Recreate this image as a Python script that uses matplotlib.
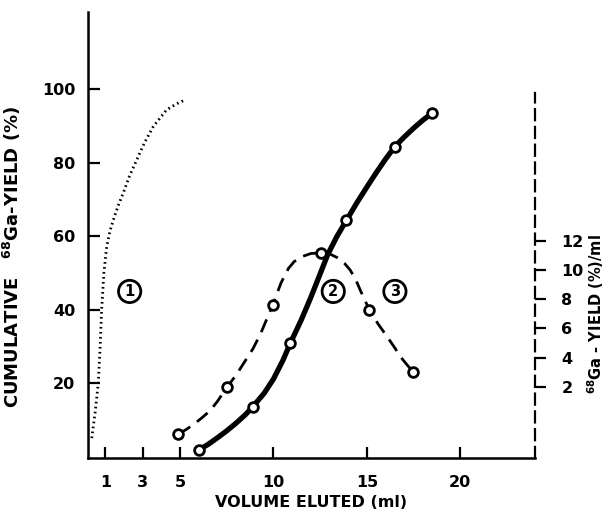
import matplotlib
matplotlib.use("Agg")
import matplotlib.pyplot as plt

plt.rcParams["font.family"] = ["DejaVu Sans"]
plt.rcParams["font.weight"] = "bold"
plt.rcParams["mathtext.default"] = "bf"

# curve 1: dotted cumulative yield (left axis, %)
v_dotted = [0.27, 0.45, 0.62, 0.72, 0.80, 0.92, 1.07, 1.25, 1.43, 1.7, 1.96, 2.3,
            2.68, 3.1, 3.57, 4.28, 4.8, 5.27]
y_dotted = [5.1, 12.0, 20.0, 30.0, 40.0, 50.0, 57.2, 61.5, 64.5, 68.5, 71.8, 76.5,
            80.8, 85.5, 89.9, 94.4, 96.0, 97.1]

# curve 2: cumulative yield, measured points (left axis, %)
v_cum = [6.0, 8.9, 10.9, 13.9, 16.5, 18.5]
y_cum = [1.9, 13.7, 30.9, 64.3, 84.4, 93.5]
# line traced through them
v_cum_line = [6.0, 6.5, 7.0, 7.5, 8.0, 8.5, 8.9, 9.5, 10.0, 10.5, 10.9, 11.5, 12.0,
              12.5, 12.9, 13.4, 13.9, 14.5, 15.0, 15.5, 16.0, 16.5, 17.0, 17.5,
              18.0, 18.5]
y_cum_line = [1.9, 3.4, 5.2, 7.1, 9.2, 11.5, 13.7, 17.3, 21.2, 26.2, 30.9, 37.4, 43.4,
              49.8, 55.0, 60.0, 64.3, 69.4, 73.4, 77.3, 81.0, 84.4, 87.0, 89.4,
              91.6, 93.5]

# curve 3: yield per ml (right axis, %/ml)
v_rate = [4.91, 7.5, 9.96, 12.55, 15.14, 17.49]
y_rate = [-1.24, 1.95, 7.6, 11.18, 7.25, 2.99]
v_rate_line = [4.91, 5.3, 5.7, 6.1, 6.6, 7.0, 7.5, 8.0, 8.4, 8.9, 9.3, 9.96, 10.4,
               10.8, 11.1, 11.5, 12.0, 12.55, 13.0, 13.4, 13.8, 14.1, 14.4, 14.65,
               14.9, 15.14, 15.6, 16.1, 16.5, 16.8, 17.15, 17.49]
y_rate_line = [-1.24, -0.95, -0.6, -0.2, 0.35, 1.0, 1.95, 2.8, 3.6, 4.6, 5.6, 7.6, 9.1,
               10.1, 10.56, 10.9, 11.12, 11.18, 11.1, 10.85, 10.45, 10.0, 9.35, 8.6,
               7.9, 7.25, 6.3, 5.4, 4.65, 4.05, 3.5, 2.99]

x_ticks = [1, 3, 5, 10, 15, 20]
left_ticks = [20, 40, 60, 80, 100]
right_ticks = [2, 4, 6, 8, 10, 12]

fig = plt.figure(figsize=(6.08, 5.16), dpi=100)
ax = fig.add_axes([88 / 608, 1 - 458 / 516, 447 / 608, 446 / 516])
ax2 = ax.twinx()

ax.set_xlim(0.07, 24.0)
ax.set_ylim(-0.3, 121)
ax2.set_ylim(-2.88, 27.66)

ax.plot(v_dotted, y_dotted, color="black", linestyle=(0, (0.6, 1.2)), linewidth=2.0)
ax.plot(v_cum_line, y_cum_line, color="black", linewidth=3.8,
        solid_capstyle="round", solid_joinstyle="round")
ax.plot(v_cum, y_cum, linestyle="none", marker="o", markersize=7,
        markerfacecolor="white", markeredgecolor="black", markeredgewidth=2)

ax2.plot(v_rate_line, y_rate_line, color="black", linewidth=2.0, linestyle=(0, (5, 3)))
ax2.plot(v_rate, y_rate, linestyle="none", marker="o", markersize=7,
         markerfacecolor="white", markeredgecolor="black", markeredgewidth=2)

for s in ["top", "right"]:
    ax.spines[s].set_visible(False)
for s in ["top", "left", "bottom"]:
    ax2.spines[s].set_visible(False)
ax.spines["left"].set_linewidth(1.8)
ax.spines["bottom"].set_linewidth(1.8)
ax2.spines["right"].set_linewidth(1.6)
ax2.spines["right"].set_linestyle((0, (5, 3)))
ax2.spines["right"].set_bounds(-2.88, 22.1)

ax.set_xticks(x_ticks)
ax.set_xticklabels([str(t) for t in x_ticks])
ax.set_yticks(left_ticks)
ax.set_yticklabels([str(t) for t in left_ticks])
ax2.set_yticks(right_ticks)
ax2.set_yticklabels([str(t) for t in right_ticks])

ax.tick_params(axis="x", direction="in", length=8, width=1.6, pad=12, labelsize=11.5)
ax.tick_params(axis="y", direction="in", length=8.5, width=1.6, pad=9, labelsize=11.5)
ax2.tick_params(axis="y", direction="out", length=8, width=1.6, pad=11, labelsize=11.5)

ax.set_xlabel("VOLUME ELUTED (ml)", fontsize=11.5, fontweight="bold", labelpad=4)
ax.set_ylabel(r"CUMULATIVE   $^{68}$Ga-YIELD (%)", fontsize=13, fontweight="bold")
ax.yaxis.set_label_coords(-0.145, 0.45)
ax2.set_ylabel(r"$^{68}$Ga - YIELD (%)/ml", fontsize=10.5, fontweight="bold", rotation=90)
ax2.yaxis.set_label_coords(1.113, 0.322)

circle = dict(boxstyle="circle,pad=0.25", facecolor="white", edgecolor="black", linewidth=2)
for label, xv, yv in [("1", 2.3, 45.0), ("2", 13.2, 45.0), ("3", 16.5, 45.0)]:
    ax.text(xv, yv, label, ha="center", va="center", fontsize=10.5,
            fontweight="bold", bbox=circle)

fig.savefig("out.png", dpi=100)
